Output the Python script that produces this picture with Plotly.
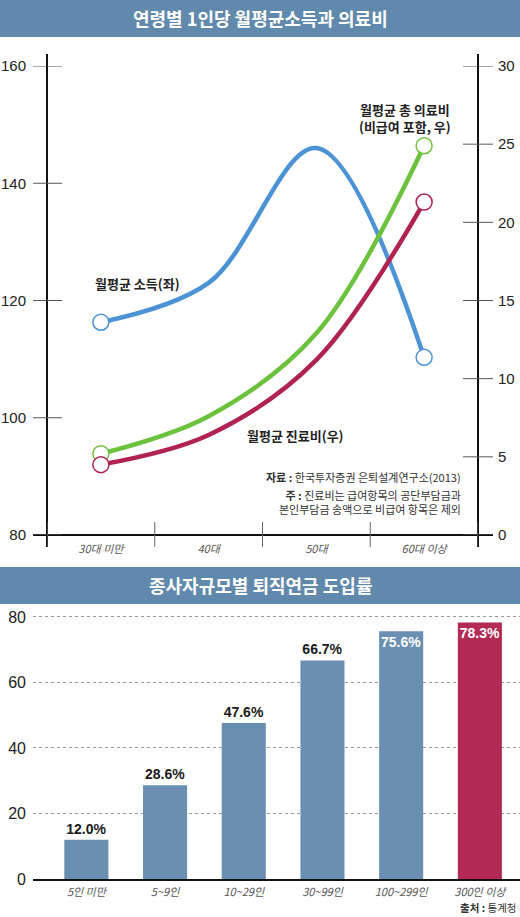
import plotly.graph_objects as go

# top chart: monthly income / medical costs by age
ages = ["30대 미만", "40대", "50대", "60대 이상"]
income = [116.3, 123.0, 146.0, 110.3]        # left axis
total_medical = [5.2, 7.6, 12.9, 24.9]       # right axis
care_cost = [4.5, 6.4, 11.2, 21.3]           # right axis
left_ticks = [80, 100, 120, 140, 160]
right_ticks = [0, 5, 10, 15, 20, 25, 30]

# bottom chart: retirement pension adoption rate by company size
sizes = ["5인 미만", "5~9인", "10~29인", "30~99인", "100~299인", "300인 이상"]
rates = [12.0, 28.6, 47.6, 66.7, 75.6, 78.3]
bar_ticks = [0, 20, 40, 60, 80]

W, H = 520, 917
KR = "Noto Sans CJK KR"
NUM = "Liberation Sans, Noto Sans CJK KR"
BAR_BLUE = "#6a8fb0"
BAR_RED = "#b32a55"
HEAD = "#6189ab"


def py(px):
    return 1 - px / H


fig = go.Figure()

end_sizes = [16, 0, 0, 16]
for vals, color, axis in [(income, "#4b93d4", "y"),
                          (total_medical, "#6cc23c", "y2"),
                          (care_cost, "#b0224f", "y2")]:
    fig.add_trace(go.Scatter(
        x=ages, y=vals, yaxis=axis, xaxis="x",
        mode="lines+markers",
        line=dict(color=color, width=4.5, shape="spline", smoothing=1),
        marker=dict(size=end_sizes, color="white", opacity=1,
                    line=dict(color=color, width=1.5)),
        hoverinfo="skip", showlegend=False,
    ))

fig.add_trace(go.Bar(
    x=sizes, y=rates, xaxis="x2", yaxis="y3",
    marker=dict(color=[BAR_BLUE] * 5 + [BAR_RED], line=dict(width=0)),
    texttemplate="%{y:.1f}%",
    textposition=["outside"] * 4 + ["inside"] * 2,
    insidetextanchor="end",
    textangle=0,
    constraintext="none",
    textfont=dict(family=NUM, size=14, weight="bold"),
    outsidetextfont=dict(color="#1a1a1a"),
    insidetextfont=dict(color="white"),
    cliponaxis=False,
    showlegend=False,
))

# plot geometry in pixels
tl, tr, tt, tb = 47, 478, 66, 535
dw, dh = tr - tl, tb - tt

fig.update_layout(
    width=W, height=H,
    margin=dict(l=0, r=0, t=0, b=0),
    paper_bgcolor="white", plot_bgcolor="white",
    font=dict(family=NUM, color="#222"),
    bargap=0.44,
    xaxis=dict(domain=[tl / W, tr / W], anchor="y", range=[-0.5, 3.5],
               automargin=False,
               showgrid=False, zeroline=False, showline=False, ticks="",
               tickfont=dict(family=KR, size=11, color="#555", style="italic"),
               ticklabelstandoff=6),
    yaxis=dict(domain=[py(tb), py(tt)], range=[80, 160], tickvals=left_ticks,
               automargin=False,
               showgrid=False, zeroline=False, showline=False, ticks="",
               tickfont=dict(size=15, color="#222"), ticklabelstandoff=20),
    yaxis2=dict(overlaying="y", side="right", anchor="x", range=[0, 30],
                automargin=False,
                tickvals=right_ticks, showgrid=False, zeroline=False,
                showline=False, ticks="",
                tickfont=dict(size=15, color="#222"), ticklabelstandoff=19),
    xaxis2=dict(domain=[33 / W, 1], anchor="y3", range=[-0.678, 5.51],
                automargin=False,
                showgrid=False, zeroline=False, showline=True,
                linecolor="#111", linewidth=2, ticks="",
                tickfont=dict(family=KR, size=11, color="#555", style="italic"),
                ticklabelstandoff=2),
    yaxis3=dict(domain=[py(879), py(612)], anchor="x2", range=[0, 81.5],
                automargin=False,
                tickvals=bar_ticks, showgrid=True, gridcolor="#999",
                griddash="3px,3px", gridwidth=1, zeroline=False,
                showline=False, ticks="",
                tickfont=dict(size=16, color="#222"), ticklabelstandoff=6),
)

shapes = []
# header bars
for y0, y1 in [(0, 37), (567, 604)]:
    shapes.append(dict(type="rect", xref="paper", yref="paper", x0=0, x1=1,
                       y0=py(y1), y1=py(y0), fillcolor=HEAD, line=dict(width=0),
                       layer="below"))
# top chart frame: two vertical axes and baseline
for xd in [0, 1]:
    shapes.append(dict(type="line", xref="x domain", yref="y domain",
                       x0=xd, x1=xd, y0=-12 / dh, y1=1 + 12 / dh,
                       line=dict(color="#111", width=2)))
shapes.append(dict(type="line", xref="x domain", yref="y domain",
                   x0=-14 / dw, x1=1 + 15 / dw, y0=0, y1=0,
                   line=dict(color="#111", width=2)))
# category dividers on the baseline
for i in range(len(ages) + 1):
    shapes.append(dict(type="line", xref="x", yref="y domain",
                       x0=i - 0.5, x1=i - 0.5, y0=-12 / dh, y1=13 / dh,
                       line=dict(color="#666", width=1)))
# tick marks crossing the axes
for v in left_ticks:
    shapes.append(dict(type="line", xref="x domain", yref="y",
                       x0=-14 / dw, x1=15 / dw, y0=v, y1=v,
                       line=dict(color="#555", width=1)))
for v in right_ticks:
    shapes.append(dict(type="line", xref="x domain", yref="y2",
                       x0=1 - 15 / dw, x1=1 + 15 / dw, y0=v, y1=v,
                       line=dict(color="#555", width=1)))
fig.update_layout(shapes=shapes)


def note(text, x, y, size, anchor="left", color="#222", family=KR):
    fig.add_annotation(text=text, xref="paper", yref="paper",
                       x=x / W, y=py(y), xanchor=anchor, yanchor="middle",
                       showarrow=False, align=anchor,
                       font=dict(family=family, size=size, color=color))


note("<b>연령별 1인당 월평균소득과 의료비</b>", 260, 18, 18, "center", "white")
note("<b>종사자규모별 퇴직연금 도입률</b>", 260, 585, 18, "center", "white")

note("<b>월평균 소득(좌)</b>", 93, 283, 13)
note("<b>월평균 총 의료비<br>(비급여 포함, 우)</b>", 405, 118, 13, "center")
note("<b>월평균 진료비(우)</b>", 245, 435, 13)

note("<b>자료 :</b> 한국투자증권 은퇴설계연구소(2013)", 463, 477, 11, "right", "#333")
note("<b>주 :</b> 진료비는 급여항목의 공단부담금과<br>본인부담금 송액으로 비급여 항목은 제외",
     463, 502, 11, "right", "#333")

note("<b>출처 :</b> 통계청", 518, 907, 10.5, "right", "#333")

# the page body has a default 8px margin; drop it so the figure sits at 0,0
fig.write_html("out.html", config={"displayModeBar": False},
               post_script="document.body.style.margin='0';")
